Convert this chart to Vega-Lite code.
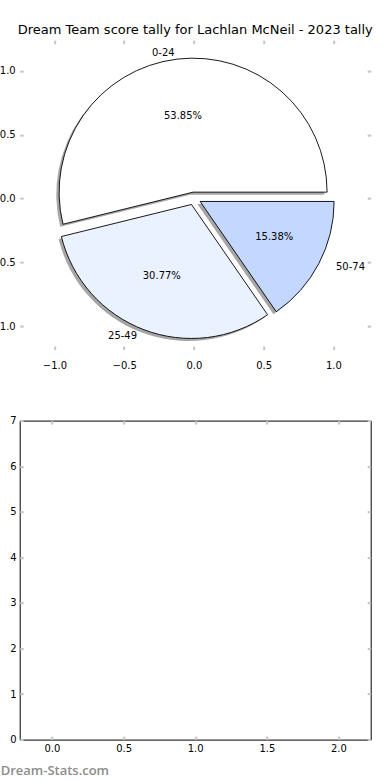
{
  "$schema": "https://vega.github.io/schema/vega-lite/v6.json",
  "autosize": {"type": "pad"},
  "padding": {"left": -9.3, "top": 24.1, "right": 0, "bottom": 0},
  "background": "white",
  "spacing": 70.5,
  "bounds": "flush",
  "config": {
    "font": "DejaVu Sans",
    "axis": {
      "labelFont": "DejaVu Sans",
      "labelFontSize": 10,
      "labelColor": "#000000",
      "tickColor": "#c4c4c4",
      "tickWidth": 2,
      "tickSize": -3.5,
      "grid": false,
      "domain": false,
      "labelFlush": false,
      "labelOverlap": false
    },
    "view": {"stroke": null}
  },
  "vconcat": [
    {
      "title": {
        "text": "Dream Team score tally for Lachlan McNeil - 2023 tally",
        "font": "DejaVu Sans",
        "fontSize": 13,
        "fontWeight": "normal",
        "color": "#000000",
        "anchor": "middle",
        "frame": "group",
        "baseline": "alphabetic",
        "offset": -8.1
      },
      "width": 351,
      "height": 309.5,
      "view": {"stroke": null},
      "data": {
        "values": [
          {"range": "0-24", "value": 7},
          {"range": "25-49", "value": 4},
          {"range": "50-74", "value": 2}
        ]
      },
      "transform": [
        {"stack": "value", "groupby": [], "sort": [{"field": "range", "order": "ascending"}], "as": ["v0", "v1"]},
        {"joinaggregate": [{"op": "sum", "field": "value", "as": "total"}]},
        {"calculate": "datum.v0 / datum.total", "as": "f0"},
        {"calculate": "datum.v1 / datum.total", "as": "f1"},
        {"calculate": "datum.value / datum.total", "as": "pct"},
        {"calculate": "PI * (datum.f0 + datum.f1)", "as": "mid"},
        {"calculate": "PI / 2 - 2 * PI * datum.f1", "as": "t1"},
        {"calculate": "PI / 2 - 2 * PI * datum.f0", "as": "t0"},
        {"calculate": "0.05 * cos(datum.mid)", "as": "cx"},
        {"calculate": "0.05 * sin(datum.mid)", "as": "cy"},
        {"calculate": "datum.cx - 0.02", "as": "sx"},
        {"calculate": "datum.cy - 0.02", "as": "sy"},
        {"calculate": "datum.cx + 1.1 * cos(datum.mid)", "as": "lx"},
        {"calculate": "datum.cy + 1.1 * sin(datum.mid)", "as": "ly"},
        {"calculate": "datum.cx + 0.6 * cos(datum.mid)", "as": "px"},
        {"calculate": "datum.cy + 0.6 * sin(datum.mid)", "as": "py"}
      ],
      "resolve": {"axis": {"x": "independent", "y": "independent"}},
      "layer": [
        {
          "mark": {"type": "arc", "radius": 134, "fill": "#4d4d4d", "opacity": 0.5, "strokeWidth": 0},
          "encoding": {
            "x": {"field": "sx", "type": "quantitative", "title": null,
                  "scale": {"domain": [-1.249, 1.267], "nice": false, "zero": false},
                  "axis": {"orient": "bottom", "values": [-1, -0.5, 0, 0.5, 1], "format": ".1f", "labelPadding": 14.4}},
            "y": {"field": "sy", "type": "quantitative", "title": null,
                  "scale": {"domain": [-1.184, 1.241], "nice": false, "zero": false},
                  "axis": {"orient": "left", "values": [-1, -0.5, 0, 0.5, 1], "format": ".1f", "labelPadding": 8}},
            "theta": {"field": "t1", "type": "quantitative", "scale": null},
            "theta2": {"field": "t0"}
          }
        },
        {
          "mark": {"type": "arc", "radius": 134, "stroke": "#000000", "strokeWidth": 0.9},
          "encoding": {
            "x": {"field": "cx", "type": "quantitative", "title": null,
                  "axis": {"orient": "top", "values": [-1, -0.5, 0, 0.5, 1], "labels": false}},
            "y": {"field": "cy", "type": "quantitative", "title": null,
                  "axis": {"orient": "right", "values": [-1, -0.5, 0, 0.5, 1], "labels": false}},
            "theta": {"field": "t1", "type": "quantitative", "scale": null},
            "theta2": {"field": "t0"},
            "color": {"field": "range", "type": "nominal", "legend": null,
                      "scale": {"domain": ["0-24", "25-49", "50-74"], "range": ["#ffffff", "#ebf2ff", "#c4d7fe"]}}
          }
        },
        {
          "mark": {"type": "text", "font": "DejaVu Sans", "fontSize": 10, "color": "#000000", "align": "center", "baseline": "middle"},
          "encoding": {
            "x": {"field": "px", "type": "quantitative", "axis": null},
            "y": {"field": "py", "type": "quantitative", "axis": null},
            "text": {"field": "pct", "type": "quantitative", "format": ".2%"}
          }
        },
        {
          "transform": [{"filter": "datum.lx < 0"}],
          "mark": {"type": "text", "font": "DejaVu Sans", "fontSize": 10, "color": "#000000", "align": "right", "baseline": "middle"},
          "encoding": {
            "x": {"field": "lx", "type": "quantitative", "axis": null},
            "y": {"field": "ly", "type": "quantitative", "axis": null},
            "text": {"field": "range", "type": "nominal"}
          }
        },
        {
          "transform": [{"filter": "datum.lx >= 0"}],
          "mark": {"type": "text", "font": "DejaVu Sans", "fontSize": 10, "color": "#000000", "align": "left", "baseline": "middle"},
          "encoding": {
            "x": {"field": "lx", "type": "quantitative", "axis": null},
            "y": {"field": "ly", "type": "quantitative", "axis": null},
            "text": {"field": "range", "type": "nominal"}
          }
        }
      ]
    },
    {
      "width": 351,
      "height": 319,
      "view": {"stroke": "#000000", "strokeWidth": 1},
      "data": {"values": []},
      "resolve": {"axis": {"x": "independent", "y": "independent"}},
      "layer": [
        {
          "mark": {"type": "point", "opacity": 0},
          "encoding": {
            "x": {"field": "x", "type": "quantitative",
                  "scale": {"domain": [-0.225, 2.225], "nice": false, "zero": false},
                  "axis": {"orient": "bottom", "values": [0, 0.5, 1, 1.5, 2], "format": ".1f", "labelPadding": 7.3,
                           "title": "Dream-Stats.com", "titleAnchor": "start", "titleAlign": "left",
                           "titleX": -19.5, "titleY": 35, "titleBaseline": "alphabetic",
                           "titleColor": "#8c8c8c", "titleFont": "Open Sans", "titleFontSize": 13, "titleFontWeight": 600}},
            "y": {"field": "y", "type": "quantitative", "title": null,
                  "scale": {"domain": [0, 7], "nice": false, "zero": false},
                  "axis": {"orient": "left", "values": [0, 1, 2, 3, 4, 5, 6, 7], "format": "d", "labelPadding": 7}}
          }
        },
        {
          "mark": {"type": "point", "opacity": 0},
          "encoding": {
            "x": {"field": "x", "type": "quantitative", "title": null,
                  "axis": {"orient": "top", "values": [0, 0.5, 1, 1.5, 2], "labels": false}},
            "y": {"field": "y", "type": "quantitative", "title": null,
                  "axis": {"orient": "right", "values": [0, 1, 2, 3, 4, 5, 6, 7], "labels": false}}
          }
        }
      ]
    }
  ]
}
